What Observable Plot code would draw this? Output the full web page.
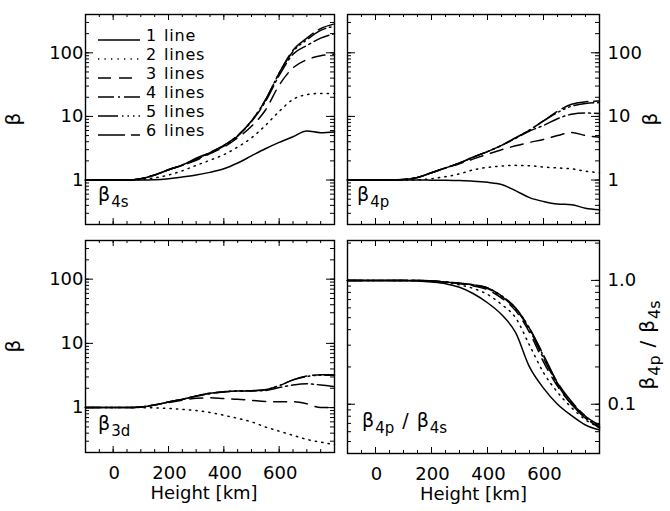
<!DOCTYPE html>
<html><head><meta charset="utf-8">
<script src="https://cdn.jsdelivr.net/npm/d3@7"></script>
<script src="https://cdn.jsdelivr.net/npm/@observablehq/plot@0.6"></script>
<style>
html,body{margin:0;padding:0;background:#fff;}
#chart{position:relative;width:670px;height:511px;overflow:hidden;background:#fff;}
#chart svg{position:absolute;left:0;top:0;}
</style></head><body><div id="chart"></div>
<script>
// ---------- data ----------
const heights = [-100,-50,0,50,100,150,200,250,300,350,400,450,500,550,600,650,700,750,800];
const seriesNames = ["1 line","2 lines","3 lines","4 lines","5 lines","6 lines"];
const xTickLabels = [0,200,400,600];
const betaTickLabels = [1,10,100];
const ratioTickLabels = [0.1,1.0];

// beta_4s
const b4s_1 = [1,1,1,1,1,1.01,1.05,1.12,1.2,1.32,1.5,1.85,2.4,3.1,3.9,4.8,5.9,5.55,5.7];
const b4s_2 = [1,1,1,1,1.02,1.08,1.2,1.4,1.7,2.05,2.5,3.3,4.6,7.2,12,18.5,22,23,23];
const b4s_3 = [1,1,1,1,1.05,1.2,1.45,1.7,2.05,2.6,3.3,4.6,7.0,12.5,31,58,78,90,95];
const b4s_4 = [1,1,1,1,1.05,1.2,1.45,1.7,2.1,2.65,3.4,4.9,8.3,17,44,95,130,170,200];
const b4s_5 = [1,1,1,1,1.05,1.2,1.45,1.72,2.15,2.7,3.5,5.0,8.5,18,48,105,160,225,262];
const b4s_6 = [1,1,1,1,1.05,1.2,1.45,1.72,2.2,2.7,3.5,5.0,8.5,18,48,110,170,240,285];
// beta_4p
const b4p_1 = [1,1,1,1,1,1,0.995,0.99,0.98,0.96,0.92,0.85,0.68,0.53,0.46,0.42,0.41,0.36,0.34];
const b4p_2 = [1,1,1,1,1,1.01,1.05,1.13,1.25,1.45,1.58,1.66,1.7,1.68,1.6,1.55,1.5,1.38,1.3];
const b4p_3 = [1,1,1,1,1.02,1.1,1.3,1.55,1.8,2.15,2.55,3.0,3.45,3.9,4.35,5.0,5.6,5.0,4.7];
const b4p_4 = [1,1,1,1,1.02,1.1,1.3,1.55,1.85,2.3,2.8,3.5,4.5,5.9,7.2,9.2,10.8,11.3,11.1];
const b4p_5 = [1,1,1,1,1.02,1.1,1.3,1.55,1.85,2.3,2.8,3.5,4.6,6.1,8.5,11.5,14.5,16,16.5];
const b4p_6 = [1,1,1,1,1.02,1.1,1.3,1.55,1.85,2.3,2.8,3.5,4.6,6.1,8.5,12,15.5,17,17.5];
// beta_3d (no 1-line curve)
const b3d_2 = [1,1,1,1,1,0.99,0.97,0.94,0.9,0.84,0.76,0.68,0.6,0.5,0.43,0.37,0.32,0.29,0.265];
const b3d_3 = [1,1,1,1,1.02,1.1,1.2,1.3,1.4,1.42,1.38,1.35,1.3,1.25,1.23,1.24,1.15,1.0,1.0];
const b3d_4 = [1,1,1,1,1.02,1.1,1.22,1.35,1.5,1.65,1.75,1.8,1.82,1.85,2.05,2.25,2.35,2.25,2.12];
const b3d_5 = [1,1,1,1,1.02,1.1,1.22,1.35,1.52,1.67,1.77,1.82,1.83,1.9,2.2,2.7,3.05,3.2,3.2];
const b3d_6 = [1,1,1,1,1.02,1.1,1.22,1.35,1.52,1.67,1.77,1.82,1.83,1.9,2.2,2.7,3.1,3.25,3.25];
// beta_4p / beta_4s
const ratio_1 = [1,1,1,1,1,0.99,0.97,0.94,0.88,0.78,0.66,0.53,0.38,0.2,0.135,0.1,0.081,0.068,0.062];
const ratio_2 = [1,1,1,1,1,0.995,0.98,0.96,0.92,0.86,0.77,0.64,0.5,0.3,0.18,0.125,0.094,0.075,0.065];
const ratio_3 = [1,1,1,1,1,1,0.99,0.97,0.94,0.9,0.84,0.72,0.57,0.38,0.22,0.14,0.1,0.077,0.066];
const ratio_4 = [1,1,1,1,1,1,0.99,0.97,0.95,0.91,0.86,0.74,0.59,0.4,0.235,0.145,0.1,0.078,0.064];
const ratio_5 = [1,1,1,1,1,1,0.99,0.97,0.95,0.92,0.87,0.75,0.6,0.41,0.245,0.148,0.103,0.08,0.066];
const ratio_6 = [1,1,1,1,1,1,0.99,0.97,0.95,0.92,0.87,0.75,0.6,0.41,0.25,0.15,0.105,0.08,0.068];

// ---------- styles ----------
const dashes = [undefined,"1.3,5.2","13,8","16,4,2,4","20,4,1.5,4,1.5,4,1.5,4","27,6"];
const FONT = "DejaVu Sans";
const W = 670, Hh = 511;

function panel(cfg) {
  const {ml, mr, mt, mb, yDomain, series, yLabels, yFmt, side, xLabelDx} = cfg;
  const fw = W - ml - mr, fh = Hh - mt - mb;
  const xMinor = d3.range(-100, 801, 50);
  const xMajor = xMinor.filter(d => d % 200 === 0);
  const yAll = d3.scaleLog().domain(yDomain).ticks();
  const yMajor = yAll.filter(d => Math.abs(Math.log10(d) - Math.round(Math.log10(d))) < 1e-6);
  const marks = [];
  series.forEach((arr, i) => {
    if (!arr) return;
    marks.push(Plot.line(heights.map((h, j) => ({h, v: arr[j]})), {
      x: "h", y: "v", stroke: "black", strokeWidth: 1.5,
      strokeDasharray: dashes[i], curve: "monotone-x"
    }));
  });
  // ticks inside, all four sides
  marks.push(Plot.ruleX(xMinor, {x: d => d, insetTop: fh - 3, stroke: "black"}));
  marks.push(Plot.ruleX(xMinor, {x: d => d, insetBottom: fh - 3, stroke: "black"}));
  marks.push(Plot.ruleX(xMajor, {x: d => d, insetTop: fh - 6, stroke: "black"}));
  marks.push(Plot.ruleX(xMajor, {x: d => d, insetBottom: fh - 6, stroke: "black"}));
  marks.push(Plot.ruleY(yAll, {y: d => d, insetRight: fw - 4, stroke: "black"}));
  marks.push(Plot.ruleY(yAll, {y: d => d, insetLeft: fw - 4, stroke: "black"}));
  marks.push(Plot.ruleY(yMajor, {y: d => d, insetRight: fw - 8, stroke: "black"}));
  marks.push(Plot.ruleY(yMajor, {y: d => d, insetLeft: fw - 8, stroke: "black"}));
  marks.push(Plot.frame({stroke: "black", strokeWidth: 1.4}));
  if (cfg.xlabels) {
    marks.push(Plot.text(xTickLabels, {x: d => d, text: d => String(d), frameAnchor: "bottom",
      dy: 26, dx: 1, fontSize: 18, fill: "black", letterSpacing: 1.5}));
    marks.push(Plot.text(["Height [km]"], {frameAnchor: "bottom", dy: 46, dx: xLabelDx || 0, fontSize: 18, fill: "black", letterSpacing: 0.4}));
  }
  marks.push(Plot.text(yLabels, {y: d => d, text: yFmt, frameAnchor: side,
    dx: side === "left" ? -2 : 8, textAnchor: side === "left" ? "end" : "start",
    fontSize: 18, fill: "black", letterSpacing: 1.5}));
  const svg = Plot.plot({
    width: W, height: Hh,
    marginLeft: ml, marginRight: mr, marginTop: mt, marginBottom: mb,
    x: {domain: [-100, 800], axis: null},
    y: {type: "log", domain: yDomain, axis: null},
    style: {background: "transparent", fontFamily: FONT, color: "black"},
    marks
  });
  return svg;
}

const chart = document.getElementById("chart");
const fmtBeta = d => String(d);
const fmtRatio = d => d.toFixed(1);

const pTL = panel({ml: 85, mr: 336, mt: 14, mb: 287, yDomain: [0.2, 400],
  series: [b4s_1, b4s_2, b4s_3, b4s_4, b4s_5, b4s_6], yLabels: betaTickLabels, yFmt: fmtBeta, side: "left"});
const pTR = panel({ml: 347, mr: 71, mt: 14, mb: 287, yDomain: [0.2, 400],
  series: [b4p_1, b4p_2, b4p_3, b4p_4, b4p_5, b4p_6], yLabels: betaTickLabels, yFmt: fmtBeta, side: "right"});
const pBL = panel({ml: 85, mr: 336, mt: 240, mb: 59, yDomain: [0.2, 400],
  series: [null, b3d_2, b3d_3, b3d_4, b3d_5, b3d_6], yLabels: betaTickLabels, yFmt: fmtBeta, side: "left",
  xlabels: true, xLabelDx: -6});
const pBR = panel({ml: 347, mr: 71, mt: 240, mb: 58, yDomain: [0.04, 2.1],
  series: [ratio_1, ratio_2, ratio_3, ratio_4, ratio_5, ratio_6], yLabels: ratioTickLabels, yFmt: fmtRatio, side: "right",
  xlabels: true});
[pTL, pTR, pBL, pBR].forEach(s => chart.appendChild(s));

// ---------- annotations ----------
const ann = d3.select(chart).append("svg").attr("width", W).attr("height", Hh)
  .style("font-family", FONT).style("position", "absolute").style("left", 0).style("top", 0);

// legend
seriesNames.forEach((name, i) => {
  const y = 40 + 19 * i;
  ann.append("line").attr("x1", 98).attr("x2", 140).attr("y1", y).attr("y2", y)
    .attr("stroke", "black").attr("stroke-width", 1.5).attr("stroke-dasharray", dashes[i] || null);
  const [num, word] = name.split(" ");
  ann.append("text").attr("x", 146).attr("y", y - 5).attr("dy", "0.35em")
    .attr("font-size", 16).text(num);
  ann.append("text").attr("x", 164).attr("y", y - 5).attr("dy", "0.35em")
    .attr("font-size", 16).attr("letter-spacing", 0.8).text(word);
});

// panel labels with subscripts
function subLabel(x, y, parts) {
  const t = ann.append("text").attr("x", x).attr("y", y);
  parts.forEach(p => {
    t.append("tspan").attr("font-size", p.sub ? 15 : 19).attr("dy", p.dy || 0)
      .attr("dx", p.dx || 0).text(p.t);
  });
  return t;
}
subLabel(98, 201, [{t: "β"}, {t: "4s", sub: true, dy: 6, dx: 1}]);
subLabel(357, 201, [{t: "β"}, {t: "4p", sub: true, dy: 6, dx: 1}]);
subLabel(98, 430, [{t: "β"}, {t: "3d", sub: true, dy: 6, dx: 1}]);
subLabel(362, 427, [{t: "β"}, {t: "4p", sub: true, dy: 6, dx: 1}, {t: "/", dy: -6, dx: 8},
  {t: "β", dx: 8}, {t: "4s", sub: true, dy: 6, dx: 1}]);

// axis titles (rotated)
function rotTitle(cx, cy, parts) {
  const t = ann.append("text").attr("transform", `translate(${cx},${cy}) rotate(-90)`)
    .attr("text-anchor", "middle").attr("dy", "0.35em");
  parts.forEach(p => {
    t.append("tspan").attr("font-size", p.sub ? 16 : 20).attr("dy", p.dy || 0)
      .attr("dx", p.dx || 0).text(p.t);
  });
}
rotTitle(20, 119, [{t: "β"}]);
rotTitle(20, 346, [{t: "β"}]);
rotTitle(657, 119, [{t: "β"}]);
rotTitle(654, 345, [{t: "β"}, {t: "4p", sub: true, dy: 6, dx: 1}, {t: "/", dy: -6, dx: 8},
  {t: "β", dx: 8}, {t: "4s", sub: true, dy: 6, dx: 1}]);
</script></body></html>
